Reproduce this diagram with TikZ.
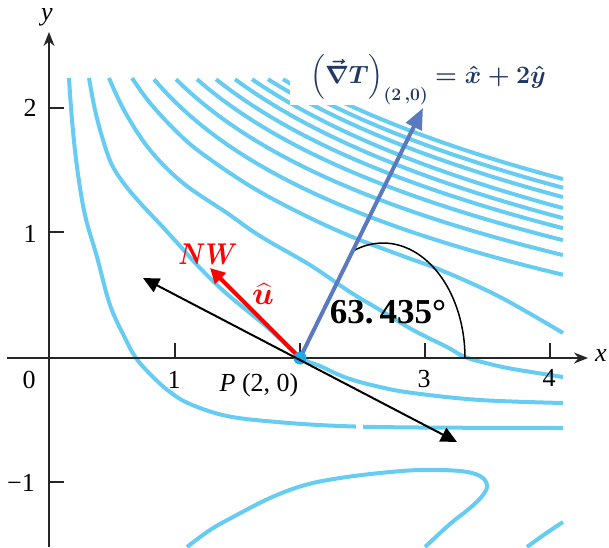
\RequirePackage{fix-cm}
\documentclass[tikz,border=0pt]{standalone}
\usepackage{amsmath}
\usepackage{graphicx}
\usepackage{fontspec}
\setmainfont{Liberation Serif}
\usetikzlibrary{arrows.meta}
\definecolor{cont}{RGB}{102,204,242}
\definecolor{gradc}{RGB}{90,122,192}
\definecolor{navy}{RGB}{31,56,100}
\definecolor{dotc}{RGB}{30,170,230}
\newcommand{\gradlab}{$\boldsymbol{\Big(\vec{\nabla}T\Big)}_{\boldsymbol{(2\,,0)}}\boldsymbol{=\hat{x}+2\hat{y}}$}
\newcommand{\uhatlab}{$\boldsymbol{\widehat{u}}$}
\newcommand{\nwlab}{\scalebox{0.85}[1]{$\boldsymbol{NW}$}}
\begin{document}
\begin{tikzpicture}[x=1pt,y=-1pt,
  contour/.style={cont, line width=4pt},
  axis/.style={line width=1.5pt, black!85},
  tick/.style={line width=1.5pt, black!85},
  lab/.style={font=\fontsize{26}{28}\selectfont, inner sep=0pt},
  blk/.style={line width=2pt, black, {Triangle[length=16pt,width=15pt]}-{Triangle[length=16pt,width=15pt]}},
  grad/.style={line width=4pt, gradc, -{Triangle[length=21pt,width=17pt]}},
  redarr/.style={line width=4pt, red, -{Triangle[length=15pt,width=15pt]}}]
\useasboundingbox (0,0) rectangle (609,547);

% ---- contour family (log shaped) ----
\begin{scope}[shift={(50,358)}, x=125pt, y=125pt]
  \foreach \xt/\bt in {0.832/0.98, 1.008/1.002, 1.176/1.03, 1.328/1.056, 1.48/1.089, 1.616/1.106, 1.744/1.102, 1.864/1.10, 1.98/1.096}
    \draw[contour] plot[domain=\xt:4.104, samples=60] (\x,{2.23-\bt*ln(\x/\xt)});
\end{scope}

% ---- traced contours ----
\draw[contour] plot[smooth, tension=0.6] coordinates {(69,78) (72,120) (77,167) (85,215) (97,257) (110,305) (125,338) (136,358) (152,376) (170,392) (190,404) (227,416) (277,422) (340,426) (420,427.5) (563,428)};
\draw[contour] plot[smooth, tension=0.6] coordinates {(89,78) (95,110) (103,140) (112,165) (125,185) (142,205) (160,224) (180,246) (200,268) (227,294) (267,327) (300,357) (320,366) (347,378) (380,387) (413,393) (480,400) (563,403)};
\draw[contour] plot[smooth, tension=0.6] coordinates {(109,78) (125,112) (150,150) (183,183) (227,213) (260,236) (310,265) (350,292) (380,310) (413,330) (447,347) (465,357) (490,364) (513,369) (563,377)};
\draw[contour] plot[smooth, tension=0.6] coordinates {(132,78) (150,103) (175,130) (200,152) (250,186) (300,213) (350,236) (400,255) (443,271) (500,297) (563,333)};
\draw[contour] plot[smooth, tension=0.6] coordinates {(187,547) (210,530) (233,517) (270,498) (305,485) (340,478) (380,473) (420,470) (460,471) (480,476) (487,485) (483,495) (470,508) (450,524) (425,547)};
\draw[contour] plot[smooth, tension=0.6] coordinates {(527,547) (545,534) (563,522)};
\fill[white] (356,418) rectangle (363,436);

% ---- white label box ----
\fill[white] (290,38) rectangle (562,105);

% ---- axes ----
\draw[axis, -{Stealth[length=14pt,width=11pt]}] (7,358) -- (588,358);
\draw[axis, -{Stealth[length=14pt,width=11pt]}] (49,547) -- (49,32);
\foreach \tx in {175,300,425,550} \draw[tick] (\tx,358) -- (\tx,343);
\foreach \ty in {108,232,482} \draw[tick] (49,\ty) -- (64,\ty);

\node[lab] (l0) at (29,380) {0};
\node[lab] (lx1) at (174,380) {1};
\node[lab] (lx3) at (424,379) {3};
\node[lab] (lx4) at (549,378) {4};
\node[lab] (ly2) at (30,108) {2};
\node[lab] (ly1) at (30,234) {1};
\node[lab] (lym1) at (21,483) {−1};
\node[lab] (xl) at (601,356) {\textit{x}};
\node[lab] (yl) at (47,17) {\textit{y}};
\node[lab] (pl) at (259,385) {\textit{P} (2, 0)};

% ---- angle arc ----
\draw[line width=1.5pt, black] plot[domain=-111.5:0, samples=40] ({383+82*cos(\x)},{358+115*sin(\x)});

% ---- vectors ----
\coordinate (Pc) at (300,358);
\coordinate (G) at (423,108);
\coordinate (NWt) at (210,268);
\coordinate (L1) at (143,278);
\coordinate (L2) at (457,442);
\draw[grad] (Pc) -- (G);
\draw[redarr] (Pc) -- (NWt);
\node[circle, fill=dotc, inner sep=0pt, minimum size=13pt] (P) at (Pc) {};
\draw[blk] (L1) -- (L2);

% ---- labels ----
\node[text=red, font=\fontsize{30}{32}\selectfont, inner sep=0pt] (nw) at (208,254) {\nwlab};
\node[text=red, font=\fontsize{32}{34}\selectfont, inner sep=0pt] (uh) at (263,294) {\uhatlab};
\node[font=\fontsize{35}{37}\selectfont\bfseries, inner sep=0pt] (ang) at (388,312) {63.\,435°};
\node[text=navy, font=\fontsize{25}{28}\selectfont, inner sep=0pt] (gl) at (428,80) {\gradlab};
\end{tikzpicture}
\end{document}
